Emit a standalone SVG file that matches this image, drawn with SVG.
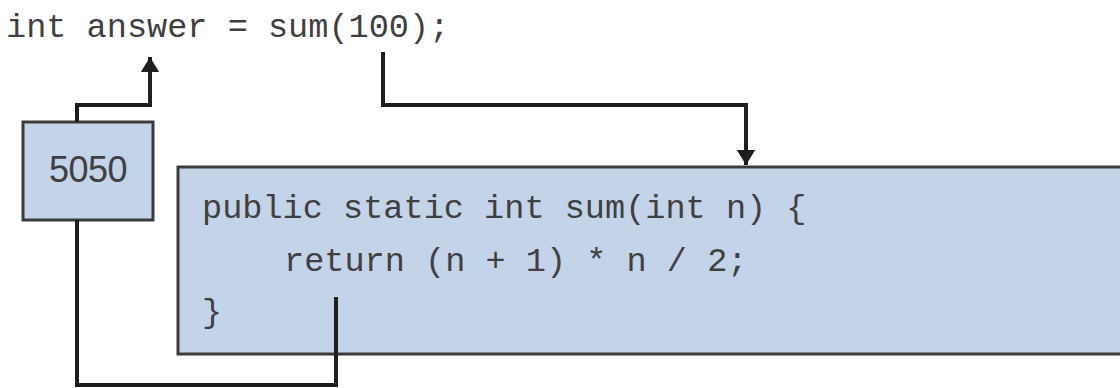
<svg xmlns="http://www.w3.org/2000/svg" width="1120" height="388" viewBox="0 0 1120 388">
<defs>
<style>
.code{font-family:"Liberation Mono","Courier New",monospace;font-size:33.6px;fill:#404040;}
.box{fill:#c3d3e8;stroke:#3c3c3c;stroke-width:3;}
.conn{fill:none;stroke:#1e1e1e;stroke-width:4;}
</style>
<marker id="arr" markerWidth="4" markerHeight="4.6" refX="3.8" refY="2.3" orient="auto" markerUnits="strokeWidth">
<path d="M0,0 L3.8,2.3 L0,4.6 Z" fill="#1e1e1e"/>
</marker>
</defs>
<rect width="1120" height="388" fill="#ffffff"/>
<g id="call-line">
<text class="code" x="6" y="37">int answer = sum(100);</text>
</g>
<g id="method">
<rect class="box" x="178" y="167" width="960" height="187"/>
<text class="code" x="202" y="218">public static int sum(int n) {</text>
<text class="code" x="284" y="271">return (n + 1) * n / 2;</text>
<text class="code" x="202" y="322">}</text>
</g>
<g id="result">
<rect class="box" x="23" y="122" width="130" height="98"/>
<text x="88" y="182" text-anchor="middle" style="font-family:'Liberation Sans',Arial,sans-serif;font-size:36px;letter-spacing:-0.5px;fill:#404040;">5050</text>
</g>
<g id="connectors">
<path class="conn" d="M77,122 V105 H150 V57" marker-end="url(#arr)"/>
<path class="conn" d="M383,52 V105 H746 V165" marker-end="url(#arr)"/>
<path class="conn" d="M336,297 V385 H77 V220"/>
</g>
</svg>
